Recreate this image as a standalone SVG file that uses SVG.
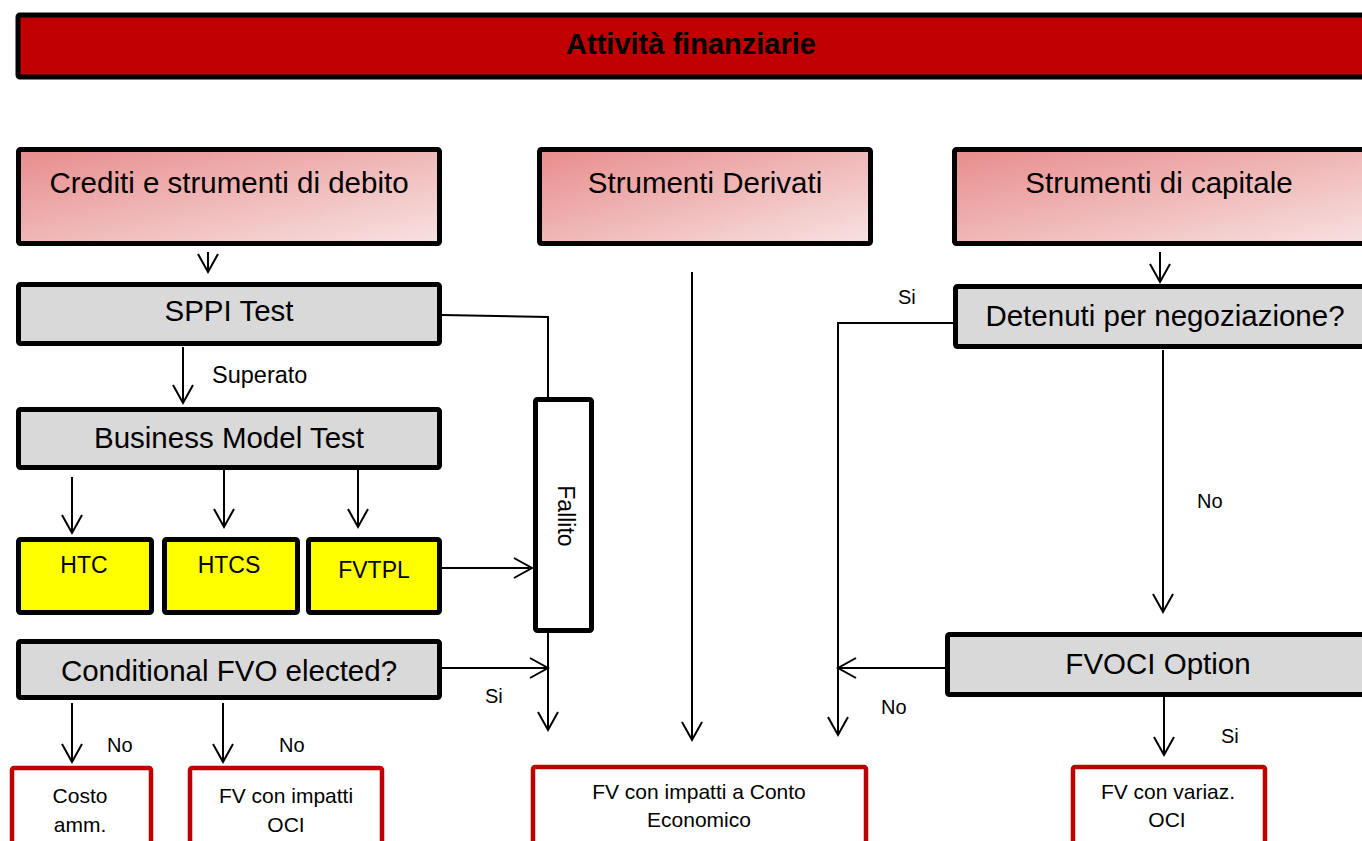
<svg xmlns="http://www.w3.org/2000/svg" width="1362" height="841" viewBox="0 0 1362 841">
<defs>
<linearGradient id="hdr" x1="0" y1="0" x2="1" y2="1">
<stop offset="0" stop-color="#e88c8c"/>
<stop offset="1" stop-color="#f8e2e2"/>
</linearGradient>
<marker id="arr" markerUnits="userSpaceOnUse" markerWidth="24" markerHeight="24" viewBox="-20 -12 24 24" refX="0" refY="0" orient="auto">
<path d="M-18,-10 L0,0 L-18,10" fill="none" stroke="#000" stroke-width="2"/>
</marker>
</defs>
<style>
text{font-family:"Liberation Sans",Arial,sans-serif;fill:#000}
.box{stroke:#000;stroke-width:5}
.hdr{fill:url(#hdr)}
.gray{fill:#d9d9d9}
.yel{fill:#ffff00}
.res{fill:#fff;stroke:#c00000;stroke-width:4.5}
.big{font-size:29.5px;text-anchor:middle}
.mid{font-size:23px;text-anchor:middle}
.sm{font-size:21px;text-anchor:middle}
.lbl{font-size:20px}
.sup{font-size:23.5px}
.con{fill:none;stroke:#000;stroke-width:2}
</style>
<g id="title">
<rect x="18" y="15" width="1360" height="62" fill="#c00000" class="box" rx="2"/>
<text x="691" y="54" font-size="29" font-weight="bold" text-anchor="middle">Attività finanziarie</text>
</g>
<g id="crediti">
<rect x="18.5" y="149.5" width="421" height="94" class="box hdr" rx="2"/>
<text x="229" y="193" class="big">Crediti e strumenti di debito</text>
</g>
<g id="derivati">
<rect x="539.5" y="149.5" width="331" height="94" class="box hdr" rx="2"/>
<text x="705" y="193" class="big">Strumenti Derivati</text>
</g>
<g id="capitale">
<rect x="954.5" y="149.5" width="420" height="94" class="box hdr" rx="2"/>
<text x="1159" y="193" class="big">Strumenti di capitale</text>
</g>
<g id="sppi">
<rect x="18.5" y="284.5" width="421" height="59" class="box gray" rx="2"/>
<text x="229" y="321" class="big">SPPI Test</text>
</g>
<g id="bmt">
<rect x="18.5" y="409.5" width="421" height="58" class="box gray" rx="2"/>
<text x="229" y="448" class="big">Business Model Test</text>
</g>
<g id="htc">
<rect x="18.5" y="539.5" width="133" height="73" class="box yel" rx="2"/>
<text x="84" y="573" class="mid">HTC</text>
</g>
<g id="htcs">
<rect x="164.5" y="539.5" width="133" height="73" class="box yel" rx="2"/>
<text x="229" y="573" class="mid">HTCS</text>
</g>
<g id="fvtpl">
<rect x="308.5" y="539.5" width="131" height="73" class="box yel" rx="2"/>
<text x="374" y="578" class="mid">FVTPL</text>
</g>
<g id="fallito">
<rect x="535.5" y="399.5" width="56" height="231" class="box" fill="#fff" rx="2"/>
<text x="566" y="516" class="mid" dominant-baseline="central" transform="rotate(90 566 516)">Fallito</text>
</g>
<g id="cfvo">
<rect x="18.5" y="641.5" width="421" height="56" class="box gray" rx="2"/>
<text x="229" y="681" class="big">Conditional FVO elected?</text>
</g>
<g id="detenuti">
<rect x="955.5" y="286.5" width="420" height="60" class="box gray" rx="2"/>
<text x="1165" y="326" class="big">Detenuti per negoziazione?</text>
</g>
<g id="fvoci">
<rect x="947.5" y="634.5" width="430" height="60" class="box gray" rx="2"/>
<text x="1158" y="674" class="big">FVOCI Option</text>
</g>
<g id="costo">
<rect x="12" y="768" width="139" height="100" class="res" rx="2"/>
<text x="80" y="803" class="sm">Costo</text>
<text x="80" y="832" class="sm">amm.</text>
</g>
<g id="fvoci-res">
<rect x="190" y="768" width="192" height="100" class="res" rx="2"/>
<text x="286" y="803" class="sm">FV con impatti</text>
<text x="286" y="832" class="sm">OCI</text>
</g>
<g id="fvce">
<rect x="533" y="767" width="333" height="100" class="res" rx="2"/>
<text x="699" y="799" class="sm">FV con impatti a Conto</text>
<text x="699" y="827" class="sm">Economico</text>
</g>
<g id="fvvar">
<rect x="1073" y="767" width="192" height="100" class="res" rx="2"/>
<text x="1168" y="799" class="sm">FV con variaz.</text>
<text x="1167" y="827" class="sm">OCI</text>
</g>
<g id="connectors">
<path class="con" d="M208,252 V272" marker-end="url(#arr)"/>
<path class="con" d="M183,347 V403" marker-end="url(#arr)"/>
<path class="con" d="M442,315 L548,317 V398" stroke-width="1.6"/>
<path class="con" d="M72,477 V533" marker-end="url(#arr)"/>
<path class="con" d="M224,470 V527" marker-end="url(#arr)"/>
<path class="con" d="M358,470 V527" marker-end="url(#arr)"/>
<path class="con" d="M442,568 H532" marker-end="url(#arr)"/>
<path class="con" d="M548,632 V730" marker-end="url(#arr)"/>
<path class="con" d="M442,668 H548" marker-end="url(#arr)"/>
<path class="con" d="M72,703 V762" marker-end="url(#arr)"/>
<path class="con" d="M223,703 V762" marker-end="url(#arr)"/>
<path class="con" d="M692,272 V740" marker-end="url(#arr)"/>
<path class="con" d="M1160,252 V282" marker-end="url(#arr)"/>
<path class="con" d="M953,323 H838 V735" marker-end="url(#arr)"/>
<path class="con" d="M1163,350 V612" marker-end="url(#arr)"/>
<path class="con" d="M945,668 H838" marker-end="url(#arr)"/>
<path class="con" d="M1164,697 V755" marker-end="url(#arr)"/>
</g>
<g id="labels">
<text x="212" y="383" class="sup">Superato</text>
<text x="485" y="703" class="lbl">Si</text>
<text x="107" y="752" class="lbl">No</text>
<text x="279" y="752" class="lbl">No</text>
<text x="898" y="304" class="lbl">Si</text>
<text x="1197" y="508" class="lbl">No</text>
<text x="881" y="714" class="lbl">No</text>
<text x="1221" y="743" class="lbl">Si</text>
</g>
</svg>
